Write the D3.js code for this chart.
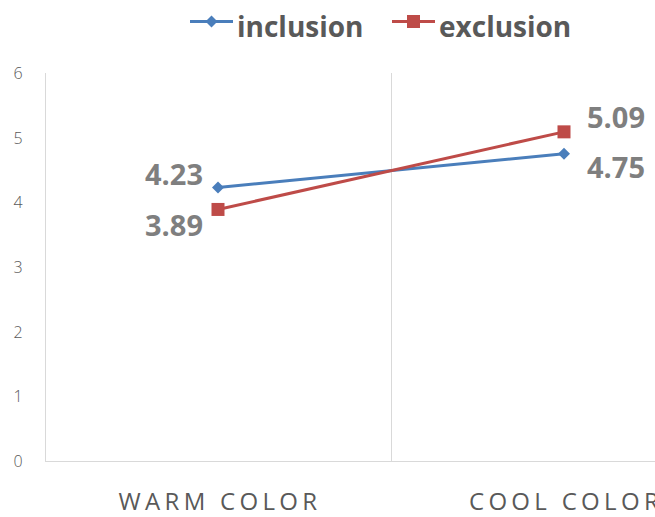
<!DOCTYPE html>
<html>
<head>
<meta charset="utf-8">
<script src="https://cdn.jsdelivr.net/npm/d3@7"></script>
<style>
  html, body { margin: 0; padding: 0; background: #fff; overflow: hidden; }
  svg { display: block; }
</style>
</head>
<body>
<svg id="chart" width="655" height="517"></svg>
<script>
// Chart data
const categories = ["WARM COLOR", "COOL COLOR"];
const inclusion = [4.23, 4.75];
const exclusion = [3.89, 5.09];
const yTicks = [0, 1, 2, 3, 4, 5, 6];

const seriesList = [
  { name: "inclusion", values: inclusion, color: "#4a7ebb", marker: "diamond" },
  { name: "exclusion", values: exclusion, color: "#be4b48", marker: "square" }
];

const svg = d3.select("#chart");
const plotLeft = 45, plotTop = 73, plotBottom = 461, bandRight = 737;

const x = d3.scaleBand().domain(categories).range([plotLeft, bandRight]).padding(0);
const y = d3.scaleLinear().domain([0, 6]).range([plotBottom, plotTop]);
const cx = c => x(c) + x.bandwidth() / 2;

// Axes and category divider
const axisColor = "#d9d9d9";
svg.append("line").attr("x1", plotLeft + 0.5).attr("x2", plotLeft + 0.5)
  .attr("y1", y(6)).attr("y2", y(0)).attr("stroke", axisColor);
svg.append("line").attr("x1", plotLeft).attr("x2", 655)
  .attr("y1", y(0) + 0.5).attr("y2", y(0) + 0.5).attr("stroke", axisColor);
svg.append("line").attr("x1", x(categories[1]) + 0.5).attr("x2", x(categories[1]) + 0.5)
  .attr("y1", y(6)).attr("y2", y(0)).attr("stroke", axisColor);

// Y tick labels
const yAxis = d3.axisLeft(y).tickValues(yTicks).tickSize(0).tickPadding(0).tickFormat(d3.format("d"));
const yg = svg.append("g").attr("transform", "translate(18,0)").call(yAxis);
yg.select(".domain").remove();
yg.selectAll("text")
  .attr("font-family", "'Open Sans', sans-serif")
  .attr("font-weight", "300")
  .attr("font-size", 16)
  .attr("fill", "#595959")
  .attr("text-anchor", "middle")
  .attr("dy", "0.35em");

// X category labels
svg.selectAll(".xlab").data(categories).enter().append("text")
  .attr("class", "xlab")
  .attr("x", d => cx(d) + 2)
  .attr("y", 510)
  .attr("text-anchor", "middle")
  .attr("font-family", "'Open Sans', sans-serif")
  .attr("font-size", 24)
  .attr("letter-spacing", "4.3px")
  .attr("fill", "#595959")
  .text(d => d);

// Markers
function drawMarker(g, type, px, py, color, size) {
  if (type === "diamond") {
    const s = size;
    g.append("path")
      .attr("d", `M${px},${py - s}L${px + s},${py}L${px},${py + s}L${px - s},${py}Z`)
      .attr("fill", color);
  } else {
    g.append("rect")
      .attr("x", px - size).attr("y", py - size)
      .attr("width", size * 2).attr("height", size * 2)
      .attr("fill", color);
  }
}

const line = d3.line().x(d => cx(d.c)).y(d => y(d.v));
seriesList.forEach(s => {
  const pts = categories.map((c, i) => ({ c, v: s.values[i] }));
  svg.append("path").datum(pts)
    .attr("d", line)
    .attr("fill", "none")
    .attr("stroke", s.color)
    .attr("stroke-width", 3);
  const g = svg.append("g");
  pts.forEach(p => drawMarker(g, s.marker, cx(p.c), y(p.v), s.color, s.marker === "diamond" ? 6 : 6.5));
});

// Value labels (baseline offsets from each point)
const labelStyle = sel => sel
  .attr("font-family", "'Open Sans', sans-serif")
  .attr("font-weight", "bold")
  .attr("font-size", 29)
  .attr("fill", "#7f7f7f");

const valueLabels = [
  { v: inclusion[0], c: categories[0], dx: -15, dy: -2.5, anchor: "end" },
  { v: exclusion[0], c: categories[0], dx: -15, dy: 26.5, anchor: "end" },
  { v: exclusion[1], c: categories[1], dx: 23, dy: -4, anchor: "start" },
  { v: inclusion[1], c: categories[1], dx: 23, dy: 24, anchor: "start" }
];
valueLabels.forEach(l => {
  svg.append("text")
    .call(labelStyle)
    .attr("x", cx(l.c) + l.dx)
    .attr("y", y(l.v) + l.dy)
    .attr("text-anchor", l.anchor)
    .text(d3.format(".2f")(l.v));
});

// Legend
const legendItems = [
  { s: seriesList[0], x: 190 },
  { s: seriesList[1], x: 392 }
];
legendItems.forEach(li => {
  const g = svg.append("g");
  g.append("line").attr("x1", li.x).attr("x2", li.x + 43)
    .attr("y1", 21.5).attr("y2", 21.5)
    .attr("stroke", li.s.color).attr("stroke-width", 3);
  drawMarker(g, li.s.marker, li.x + 21.5, 21.5, li.s.color, li.s.marker === "diamond" ? 6 : 6.5);
  g.append("text")
    .attr("x", li.x + 47)
    .attr("y", 37)
    .attr("font-family", "'Open Sans', sans-serif")
    .attr("font-weight", "bold")
    .attr("font-size", 28)
    .attr("fill", "#595959")
    .text(li.s.name);
});
</script>
</body>
</html>
